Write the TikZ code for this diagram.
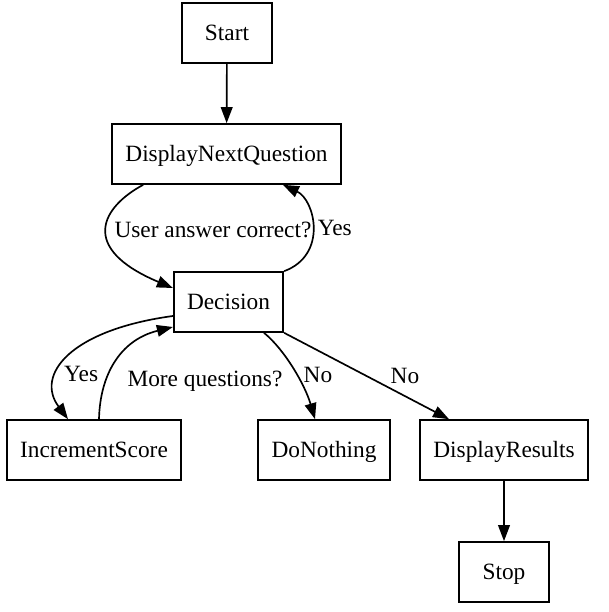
\documentclass[tikz,border=0pt]{standalone}
\usepackage{fontspec}
\setmainfont{Liberation Serif}
\usepackage{tikz}
\usetikzlibrary{positioning, arrows.meta, calc}

\begin{document}
\begin{tikzpicture}[x=0.6pt, y=0.6pt, >={Triangle[length=9.6pt,width=7pt]},
		font=\fontsize{14}{16.8}\selectfont,
		box/.style={draw, line width=1pt, minimum width=54pt, minimum height=36pt, inner xsep=8pt, text height=9.5pt, text depth=0pt},
		edge/.style={->, line width=1pt},
		lbl/.style={inner sep=2pt, text height=9.5pt, text depth=0pt}]
		
		\useasboundingbox (0,0) rectangle (608,-612);
		
		% Draw nodes
		\node[box] (start) at (227,-33) {Start};
		\node[box] (dnq) at (226.5,-154) {DisplayNextQuestion};
		\node[box] (dec) at (228.5,-302) {Decision};
		\node[box] (inc) at (94,-450) {IncrementScore};
		\node[box] (dono) at (324,-450) {DoNothing};
		\node[box] (disp) at (504,-450) {DisplayResults};
		\node[box] (stop) at (504,-572) {Stop};
		
		% Draw edges
		\draw[edge] (start) -- (dnq);
		\draw[edge] ([xshift=-50pt]dnq.south) .. controls (102,-207) and (78,-248) .. ([yshift=8.4pt]dec.west)
		node[lbl, pos=0.5, right=2pt] {User answer correct?};
		\draw[edge] (dec.north east) .. controls (328,-255) and (315,-200) .. ([xshift=33.9pt]dnq.south)
		node[lbl, pos=0.5, right=1pt] {Yes};
		
		\draw[edge] ([yshift=-8.4pt]dec.west) .. controls (70,-330) and (35,-375) .. ([xshift=-15.6pt]inc.north)
		node[lbl, pos=0.65, right=1pt] {Yes};
		\draw[edge] ([xshift=3pt]inc.north) .. controls (100,-375) and (120,-340) .. ([yshift=-15pt]dec.west)
		node[lbl, pos=0.33, right=10pt] {More questions?};
		
		\draw[edge] ([xshift=21.3pt]dec.south) .. controls (285,-350) and (305,-385) .. ([xshift=-5.4pt]dono.north)
		node[lbl, pos=0.55, right=2pt] {No};
		\draw[edge] (dec.south east) -- ([xshift=-33pt]disp.north)
		node[lbl, midway, right=12pt] {No};
		
		\draw[edge] (disp) -- (stop);
		
	\end{tikzpicture}
\end{document}
